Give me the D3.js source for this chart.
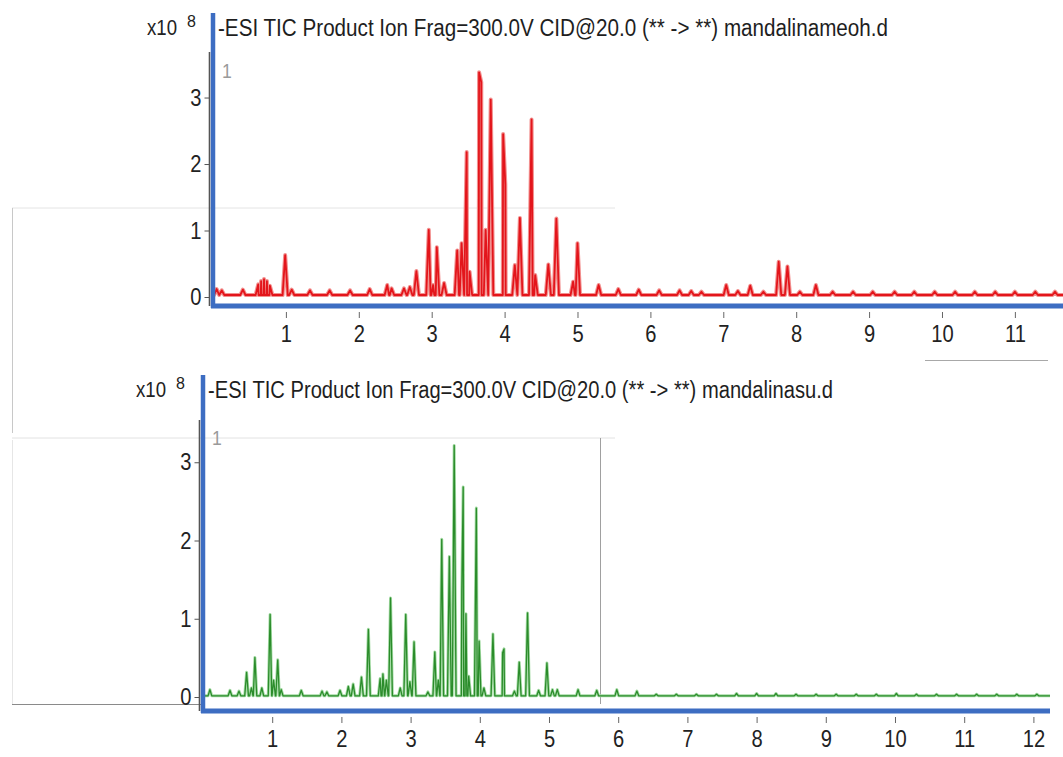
<!DOCTYPE html>
<html>
<head>
    <script src="https://cdn.jsdelivr.net/npm/d3@7"></script>
    <style>
        body { margin: 0; background: #fff; }
        #my-svg { width: 1063px; height: 757px; display: block; }
        text { font-family: "Liberation Sans Narrow", "Arial Narrow", "Liberation Sans", Arial, sans-serif; }
        .narrow { transform-box: fill-box; transform-origin: center; transform: scaleX(0.84); }
    </style>
</head>
<body>

<svg id="my-svg" width="1063" height="757"></svg>

<script>
    // peaks of the top trace (mandalinameoh.d), time in min, height in x10^8
    const redTimes   = [0.05, 0.12, 0.41, 0.62, 0.66, 0.70, 0.74, 0.78, 0.99, 1.08, 1.33, 1.60, 1.88, 2.15, 2.39, 2.45, 2.62,
                        2.70, 2.79, 2.96, 3.02, 3.07, 3.17, 3.35, 3.41, 3.48, 3.52, 3.65, 3.68, 3.74, 3.81, 3.98, 4.01, 4.14,
                        4.21, 4.37, 4.42, 4.60, 4.71, 4.94, 5.00, 5.29, 5.56, 5.84, 6.12, 6.40, 6.56, 6.70, 7.04, 7.20, 7.37,
                        7.55, 7.76, 7.88, 8.05, 8.27, 8.50, 8.78, 9.05, 9.35, 9.62, 9.90, 10.18, 10.45, 10.73, 11.00, 11.28, 11.55];
    const redHeights = [0.09, 0.07, 0.08, 0.16, 0.21, 0.24, 0.21, 0.14, 0.60, 0.08, 0.07, 0.07, 0.07, 0.09, 0.15, 0.10, 0.10,
                        0.12, 0.36, 0.98, 0.15, 0.72, 0.18, 0.67, 0.78, 2.15, 0.35, 3.35, 3.20, 0.98, 2.94, 2.42, 1.66, 0.45,
                        1.16, 2.64, 0.30, 0.46, 1.15, 0.20, 0.78, 0.15, 0.09, 0.08, 0.07, 0.07, 0.06, 0.05, 0.15, 0.06, 0.14,
                        0.05, 0.50, 0.43, 0.05, 0.15, 0.05, 0.05, 0.05, 0.05, 0.05, 0.05, 0.05, 0.05, 0.05, 0.05, 0.05, 0.05];

    // peaks of the bottom trace (mandalinasu.d)
    const greenTimes   = [0.10, 0.39, 0.52, 0.63, 0.70, 0.75, 0.85, 0.97, 1.02, 1.08, 1.13, 1.42, 1.72, 1.79, 1.98, 2.10, 2.17,
                          2.29, 2.39, 2.56, 2.60, 2.65, 2.71, 2.85, 2.93, 2.99, 3.05, 3.25, 3.35, 3.40, 3.45, 3.56, 3.63, 3.74,
                          3.76, 3.80, 3.84, 3.95, 3.99, 4.06, 4.19, 4.33, 4.35, 4.50, 4.57, 4.69, 4.85, 4.97, 5.05, 5.12, 5.42,
                          5.69, 5.98, 6.27, 6.55, 6.84, 7.13, 7.42, 7.71, 8.00, 8.28, 8.57, 8.86, 9.15, 9.44, 9.73, 10.02, 10.31,
                          10.60, 10.89, 11.18, 11.47, 11.76, 12.05];
    const greenHeights = [0.08, 0.07, 0.06, 0.30, 0.10, 0.49, 0.10, 1.04, 0.20, 0.46, 0.08, 0.07, 0.06, 0.05, 0.07, 0.12, 0.15,
                          0.24, 0.85, 0.22, 0.28, 0.20, 1.25, 0.10, 1.04, 0.18, 0.69, 0.05, 0.56, 0.20, 2.00, 1.78, 3.20, 1.34,
                          2.67, 1.05, 0.25, 2.40, 0.70, 0.10, 0.79, 0.55, 0.60, 0.06, 0.43, 1.06, 0.07, 0.42, 0.08, 0.08, 0.08,
                          0.07, 0.08, 0.06, 0.02, 0.02, 0.02, 0.02, 0.03, 0.03, 0.03, 0.02, 0.02, 0.02, 0.02, 0.02, 0.03, 0.02,
                          0.02, 0.02, 0.02, 0.02, 0.02, 0.02];

    const topXTicks = [1, 2, 3, 4, 5, 6, 7, 8, 9, 10, 11];
    const botXTicks = [1, 2, 3, 4, 5, 6, 7, 8, 9, 10, 11, 12];
    const yTicks = [0, 1, 2, 3];

    const titleTop = "-ESI TIC Product Ion Frag=300.0V CID@20.0 (** -> **) mandalinameoh.d";
    const titleBot = "-ESI TIC Product Ion Frag=300.0V CID@20.0 (** -> **) mandalinasu.d";

    const blue = "#3d6dc2";
    const svg = d3.select("#my-svg");

    // faint frame lines left over from the pasted screenshots
    const frame = svg.append("g").attr("fill", "none");
    frame.append("line").attr("x1", 12).attr("y1", 208).attr("x2", 615).attr("y2", 208).attr("stroke", "#e4e4e4");
    frame.append("line").attr("x1", 12.5).attr("y1", 208).attr("x2", 12.5).attr("y2", 433).attr("stroke", "#c8c8c8");
    frame.append("line").attr("x1", 12).attr("y1", 438).attr("x2", 615).attr("y2", 438).attr("stroke", "#e2e2e2");
    frame.append("line").attr("x1", 12.5).attr("y1", 440).attr("x2", 12.5).attr("y2", 704).attr("stroke", "#e6e6e6");
    frame.append("line").attr("x1", 12).attr("y1", 704.5).attr("x2", 203).attr("y2", 704.5).attr("stroke", "#8a8a8a");
    frame.append("line").attr("x1", 600.5).attr("y1", 438).attr("x2", 600.5).attr("y2", 704).attr("stroke", "#a0a0a0");
    frame.append("line").attr("x1", 925).attr("y1", 360.5).attr("x2", 1048).attr("y2", 360.5).attr("stroke", "#a8a8a8");

    function buildTrace(times, heights, base, halfW, tMax) {
        let pts = [[0, base]];
        times.forEach((t, i) => {
            pts.push([t - halfW, base], [t, base + heights[i]], [t + halfW, base]);
        });
        pts.push([tMax, base]);
        return pts.sort((a, b) => a[0] - b[0]);
    }

    function drawPanel(o) {
        let x = d3.scaleLinear().domain(o.xDomain).range(o.xRange);
        let y = d3.scaleLinear().domain(o.yDomain).range(o.yRange);
        let g = svg.append("g");

        // gray y axis with ticks
        g.append("line")
            .attr("x1", o.grayX).attr("x2", o.grayX)
            .attr("y1", o.grayTop).attr("y2", o.axisY)
            .attr("stroke", "#555").attr("stroke-width", 1.6);
        let ya = g.append("g")
            .attr("transform", `translate(${o.grayX},0)`)
            .call(d3.axisLeft(y).tickValues(yTicks).tickSize(5).tickPadding(2).tickFormat(d3.format("d")));
        ya.select(".domain").remove();
        ya.selectAll(".tick line").attr("stroke", "#555");
        ya.selectAll(".tick text").attr("class", "narrow")
            .style("font-size", "24px").style("fill", "#222");

        // x axis ticks below the blue line
        let xa = g.append("g")
            .attr("transform", `translate(0,${o.axisY + 6})`)
            .call(d3.axisBottom(x).tickValues(o.xTicks).tickSize(6).tickPadding(7).tickFormat(d3.format("d")));
        xa.select(".domain").remove();
        xa.selectAll(".tick line").attr("stroke", "#666");
        xa.selectAll(".tick text").attr("class", "narrow")
            .style("font-size", "24px").style("fill", "#222");

        // trace
        let line = d3.line().x(d => x(d[0])).y(d => y(d[1]));
        let pts = buildTrace(o.times, o.heights, o.base, o.halfW, o.xDomain[1]);
        g.append("path").attr("d", line(pts)).attr("fill", "none")
            .attr("stroke", o.halo).attr("stroke-width", o.haloW).attr("stroke-linejoin", "round");
        g.append("path").attr("d", line(pts)).attr("fill", "none")
            .attr("stroke", o.color).attr("stroke-width", o.coreW).attr("stroke-linejoin", "round");

        // blue frame lines
        g.append("line").attr("x1", o.xRange[0]).attr("x2", o.xRange[0])
            .attr("y1", o.blueTop).attr("y2", o.axisY + 2)
            .attr("stroke", blue).attr("stroke-width", 4.5);
        g.append("line").attr("x1", o.xRange[0] - 2).attr("x2", o.blueRight)
            .attr("y1", o.axisY).attr("y2", o.axisY)
            .attr("stroke", blue).attr("stroke-width", 5);

        // title and exponent
        g.append("text").attr("x", o.expX).attr("y", o.titleY - 1)
            .attr("text-anchor", "end").attr("textLength", 30).attr("lengthAdjust", "spacingAndGlyphs")
            .style("font-size", "22px").style("fill", "#222").text("x10");
        g.append("text").attr("x", o.expX + 10).attr("y", o.titleY - 9)
            .style("font-size", "16px").style("fill", "#222").text("8");
        g.append("text").attr("x", o.xRange[0] + 5).attr("y", o.titleY)
            .attr("textLength", o.titleLen).attr("lengthAdjust", "spacingAndGlyphs")
            .style("font-size", "23px").style("fill", "#1e1e1e").text(o.title);
        g.append("text").attr("x", o.xRange[0] + 8).attr("y", o.oneY)
            .attr("class", "narrow")
            .style("font-size", "21px").style("fill", "#9a9a9a").text("1");
    }

    drawPanel({
        xDomain: [0, 11.66], xRange: [213, 1063],
        yDomain: [0, 3.7], yRange: [297, 51],
        xTicks: topXTicks, times: redTimes, heights: redHeights,
        base: 0.03, halfW: 0.035,
        color: "#e3151b", halo: "#f2908f", haloW: 4, coreW: 1.8,
        grayX: 209.5, grayTop: 52, axisY: 306, blueTop: 13, blueRight: 1063,
        expX: 177, titleY: 36, title: titleTop, titleLen: 670, oneY: 78
    });

    drawPanel({
        xDomain: [0, 12.24], xRange: [203, 1050],
        yDomain: [0, 3.54], yRange: [697, 420],
        xTicks: botXTicks, times: greenTimes, heights: greenHeights,
        base: 0.015, halfW: 0.027,
        color: "#2b8c2b", halo: "#a6dca6", haloW: 3, coreW: 1.3,
        grayX: 199.5, grayTop: 420, axisY: 711, blueTop: 375, blueRight: 1050,
        expX: 166, titleY: 398, title: titleBot, titleLen: 625, oneY: 445
    });
</script>
</body>
</html>
